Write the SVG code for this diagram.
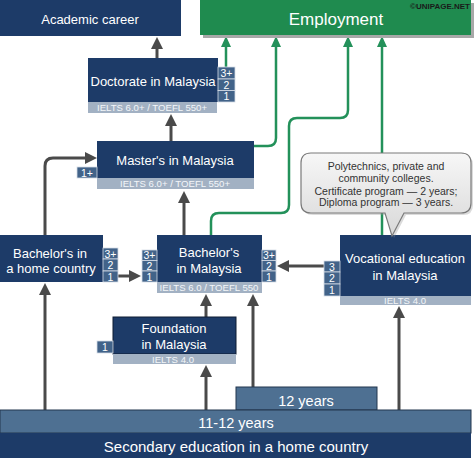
<svg xmlns="http://www.w3.org/2000/svg" width="474" height="458" viewBox="0 0 474 458">
<style>
.nv{fill:#1d3b68}
.st{fill:#a2b1c3}
.sm{fill:#426389;stroke:#d5dde7;stroke-width:0.8}
.t{font-family:"Liberation Sans",Arial,sans-serif;fill:#ffffff;text-anchor:middle}
.l13{font-size:13px}
.l15{font-size:15px}
.s{font-size:9.6px;fill:#f3f6f9}
.n{font-size:10.5px}
.dk{fill:none;stroke:#4a4a4a;stroke-width:3}
.gr{fill:none;stroke:#23915a;stroke-width:2.5}
.ct{font-family:"Liberation Sans",Arial,sans-serif;font-size:10.5px;fill:#333333;text-anchor:middle}
</style>
<defs>
<marker id="ah" viewBox="0 0 12 12" markerWidth="12" markerHeight="12" refX="4" refY="6" orient="auto" markerUnits="userSpaceOnUse"><path d="M0,0 L12,6 L0,12 z" fill="#4a4a4a"/></marker>
<marker id="ag" viewBox="0 0 11 10" markerWidth="11" markerHeight="10" refX="4" refY="5" orient="auto" markerUnits="userSpaceOnUse"><path d="M0,0 L11,5 L0,10 z" fill="#23915a"/></marker>
<linearGradient id="cg" x1="0" y1="0" x2="0" y2="1"><stop offset="0" stop-color="#f7f7f7"/><stop offset="1" stop-color="#d8d8d8"/></linearGradient>
</defs>

<g id="connectors">
<path class="gr" d="M226,67 V43" marker-end="url(#ag)"/>
<path class="gr" d="M254,146 H268 Q276,146 276,138 V43" marker-end="url(#ag)"/>
<path class="gr" d="M211,235 V221 Q211,213 219,213 H281 Q289,213 289,205 V126 Q289,118 297,118 H340 Q348,118 348,110 V43" marker-end="url(#ag)"/>
<path class="gr" d="M382,235 V43" marker-end="url(#ag)"/>
<path class="dk" d="M157,58 V45" marker-end="url(#ah)"/>
<path class="dk" d="M171,141 V122" marker-end="url(#ah)"/>
<path class="dk" d="M184,235 V199" marker-end="url(#ah)"/>
<path class="dk" d="M45,235 V166 Q45,158 53,158 H89" marker-end="url(#ah)"/>
<path class="dk" d="M118,276 H133" marker-end="url(#ah)"/>
<path class="dk" d="M324,266 H285" marker-end="url(#ah)"/>
<path class="dk" d="M206,317 V302" marker-end="url(#ah)"/>
<path class="dk" d="M253,387 V302" marker-end="url(#ah)"/>
<path class="dk" d="M206,410 V373" marker-end="url(#ah)"/>
<path class="dk" d="M45,410 V291" marker-end="url(#ah)"/>
<path class="dk" d="M399,410 V314" marker-end="url(#ah)"/>
</g>

<g id="academic">
<rect class="nv" x="0" y="0" width="181" height="36"/>
<text class="t l13" x="90" y="23.5">Academic career</text>
</g>

<g id="employment">
<rect x="203" y="3" width="271" height="35" fill="#a8a8a8"/>
<rect x="200" y="0" width="271" height="35" fill="#1f8b4f"/>
<text class="t" x="336" y="25" font-size="17">Employment</text>
<text x="470" y="9" font-family="Liberation Sans,Arial,sans-serif" font-size="8" font-weight="bold" fill="#1a1a1a" text-anchor="end">©UNIPAGE.NET</text>
</g>

<g id="doctorate">
<rect class="nv" x="88" y="58" width="130" height="44"/>
<rect class="st" x="88" y="102" width="129" height="11"/>
<text class="t l13" x="153" y="85.5">Doctorate in Malaysia</text>
<text class="t s" x="152" y="111">IELTS 6.0+ / TOEFL 550+</text>
<rect class="sm" x="218" y="67" width="17" height="12"/>
<rect class="sm" x="218" y="79" width="17" height="11.5"/>
<rect class="sm" x="218" y="90.5" width="17" height="11.5"/>
<text class="t n" x="226.5" y="77">3+</text>
<text class="t n" x="226.5" y="88.5">2</text>
<text class="t n" x="226.5" y="100">1</text>
</g>

<g id="masters">
<rect class="nv" x="97" y="141" width="157" height="37"/>
<rect class="st" x="97" y="178" width="157" height="11"/>
<text class="t l13" x="175" y="164.5">Master's in Malaysia</text>
<text class="t s" x="175" y="187">IELTS 6.0+ /  TOEFL 550+</text>
<rect class="sm" x="77" y="167" width="20" height="11"/>
<text class="t n" x="87" y="176.5">1+</text>
</g>

<g id="bachelor-home">
<rect class="nv" x="0" y="235" width="103" height="47"/>
<text class="t l13" x="50" y="257.5">Bachelor's in</text>
<text class="t l13" x="51" y="272.5">a home country</text>
<rect class="sm" x="103" y="248" width="15" height="11"/>
<rect class="sm" x="103" y="259" width="15" height="12"/>
<rect class="sm" x="103" y="271" width="15" height="11"/>
<text class="t n" x="110.5" y="257.5">3+</text>
<text class="t n" x="110.5" y="269">2</text>
<text class="t n" x="110.5" y="280.5">1</text>
</g>

<g id="bachelor-malaysia">
<rect class="nv" x="157" y="235" width="105" height="47"/>
<rect class="st" x="157" y="282" width="105" height="11"/>
<text class="t l13" x="209" y="256.5">Bachelor's</text>
<text class="t l13" x="209" y="272.5">in Malaysia</text>
<text class="t s" x="209" y="291">IELTS 6.0 /  TOEFL 550</text>
<rect class="sm" x="142" y="250" width="15" height="10.5"/>
<rect class="sm" x="142" y="260.5" width="15" height="10.5"/>
<rect class="sm" x="142" y="271" width="15" height="11"/>
<text class="t n" x="149.5" y="259">3+</text>
<text class="t n" x="149.5" y="269.5">2</text>
<text class="t n" x="149.5" y="280.5">1</text>
<rect class="sm" x="262" y="250" width="14" height="10.5"/>
<rect class="sm" x="262" y="260.5" width="14" height="10.5"/>
<rect class="sm" x="262" y="271" width="14" height="11"/>
<text class="t n" x="269" y="259">3+</text>
<text class="t n" x="269" y="269.5">2</text>
<text class="t n" x="269" y="280.5">1</text>
</g>

<g id="vocational">
<rect class="nv" x="340" y="235" width="131" height="61"/>
<rect class="st" x="340" y="296" width="131" height="9"/>
<text class="t l13" x="405" y="262.5">Vocational education</text>
<text class="t l13" x="405" y="279.5">in Malaysia</text>
<text class="t s" x="405" y="304" font-size="9">IELTS 4.0</text>
<rect class="sm" x="324" y="261" width="16" height="11"/>
<rect class="sm" x="324" y="272" width="16" height="12"/>
<rect class="sm" x="324" y="284" width="16" height="12"/>
<text class="t n" x="332" y="270.5">3</text>
<text class="t n" x="332" y="282">2</text>
<text class="t n" x="332" y="294">1</text>
</g>

<g id="callout">
<path d="M311,153 H461 Q471,153 471,163 V203 Q471,213 461,213 H404 L392,236 L385,213 H311 Q301,213 301,203 V163 Q301,153 311,153 Z" fill="#999999" opacity="0.35" transform="translate(2,2)"/>
<path d="M311,153 H461 Q471,153 471,163 V203 Q471,213 461,213 H404 L392,236 L385,213 H311 Q301,213 301,203 V163 Q301,153 311,153 Z" fill="url(#cg)" stroke="#7a7a7a" stroke-width="1.2"/>
<text class="ct" x="386" y="170">Polytechnics, private and</text>
<text class="ct" x="386" y="182">community colleges.</text>
<text class="ct" x="386" y="194.5">Certificate program — 2 years;</text>
<text class="ct" x="386" y="206">Diploma program — 3 years.</text>
</g>

<g id="foundation">
<rect class="nv" x="113" y="317" width="123" height="37" stroke="#0f1d33" stroke-width="1"/>
<rect class="st" x="113" y="354" width="123" height="10"/>
<text class="t l13" x="174" y="333">Foundation</text>
<text class="t l13" x="174" y="349">in Malaysia</text>
<text class="t s" x="173" y="362.5" font-size="9">IELTS 4.0</text>
<rect class="sm" x="97" y="341" width="16" height="12"/>
<text class="t n" x="105" y="351">1</text>
</g>

<g id="twelve-years">
<rect x="236" y="387" width="141" height="23" fill="#4e7092" stroke="#22364f" stroke-width="1"/>
<text class="t" x="306" y="406" font-size="14.5">12 years</text>
</g>

<g id="secondary">
<rect x="0" y="410" width="471" height="23" fill="#4e7092" stroke="#22364f" stroke-width="1"/>
<rect class="nv" x="0" y="433" width="471" height="25"/>
<text class="t" x="236" y="428" font-size="14.5">11-12 years</text>
<text class="t l15" x="236" y="452">Secondary education in a home country</text>
</g>
</svg>
